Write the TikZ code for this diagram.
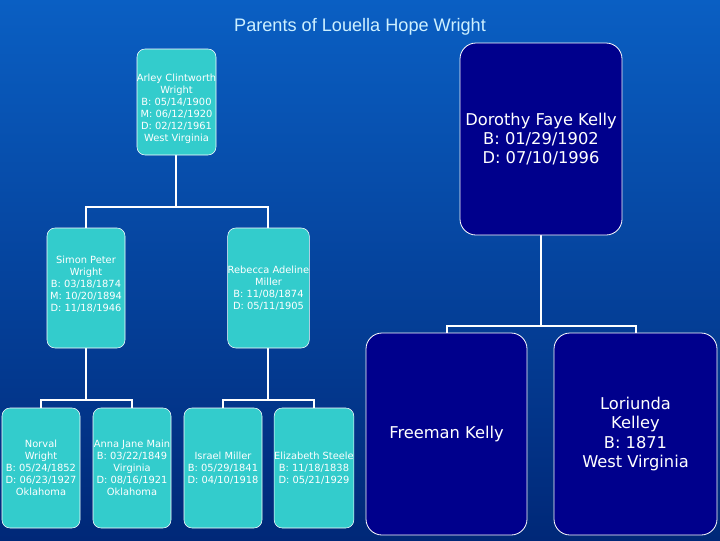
\documentclass[tikz,border=0pt]{standalone}
\usepackage{fontspec}
\setmainfont{DejaVu Sans}
\newfontfamily\titlefont{Liberation Sans}
\definecolor{turq}{RGB}{51,204,204}
\definecolor{navybox}{RGB}{0,0,140}
\definecolor{bgtop}{RGB}{10,95,195}
\definecolor{bgbot}{RGB}{0,40,120}
\definecolor{titlecol}{RGB}{205,240,255}
\begin{document}
\begin{tikzpicture}[x=0.75pt,y=-0.75pt,
  tfont/.style={font=\fontsize{7.4}{9}\selectfont},
  tbox/.style={fill=turq,draw=white,line width=0.4pt,rounded corners=6pt,text=white,align=center,tfont,inner sep=0pt},
  ttext/.style={text=white,align=center,tfont},
  nbox/.style={fill=navybox,draw=white,line width=0.6pt,rounded corners=12pt,text=white,align=center,font=\fontsize{12.2}{14.5}\selectfont,inner sep=0pt},
  conn/.style={draw=white,line width=2.2pt}]
\shade[top color=bgtop,bottom color=bgbot] (0,0) rectangle (720,540);
\useasboundingbox (0,0) rectangle (720,540);
\node[text=titlecol,font=\titlefont\fontsize{13.6}{15}\selectfont] (title) at (360,27) {Parents of Louella Hope Wright};
% connectors
\coordinate (j1) at (176,207); \coordinate (j2) at (541,326);
\coordinate (j3) at (86,400); \coordinate (j4) at (268,400);
\draw[conn] (176,155) -- (j1); \draw[conn] (86,228) |- (268,207) -- (268,228);
\draw[conn] (541,235) -- (j2); \draw[conn] (447,333) |- (636,326) -- (636,333);
\draw[conn] (86,348) -- (j3); \draw[conn] (41,408) |- (132,400) -- (132,408);
\draw[conn] (268,348) -- (j4); \draw[conn] (223,408) |- (314,400) -- (314,408);
% boxes
\node[tbox,minimum width=59.25pt,minimum height=79.5pt] (arley) at (176.5,102) {};
\node[ttext] at (176.5,109) {Arley Clintworth\\Wright\\B: 05/14/1900\\M: 06/12/1920\\D: 02/12/1961\\West Virginia};
\node[nbox,minimum width=121.5pt,minimum height=144pt] (dorothy) at (541,139) {Dorothy Faye Kelly\\B: 01/29/1902\\D: 07/10/1996};
\node[tbox,minimum width=58.5pt,minimum height=90pt] (simon) at (86,288) {};
\node[ttext] at (86,284) {Simon Peter\\Wright\\B: 03/18/1874\\M: 10/20/1894\\D: 11/18/1946};
\node[tbox,minimum width=59.25pt,minimum height=90pt] (rebecca) at (268.5,288) {Rebecca Adeline\\Miller\\B: 11/08/1874\\D: 05/11/1905};
\node[nbox,minimum width=120.75pt,minimum height=151.5pt] (freeman) at (446.5,434) {Freeman Kelly};
\node[nbox,minimum width=122.25pt,minimum height=151.5pt] (lori) at (635.5,434) {Loriunda\\Kelley\\B: 1871\\West Virginia};
\node[tbox,minimum width=58.5pt,minimum height=90pt] (norval) at (41,468) {Norval\\Wright\\B: 05/24/1852\\D: 06/23/1927\\Oklahoma};
\node[tbox,minimum width=58.5pt,minimum height=90pt] (anna) at (132,468) {Anna Jane Main\\B: 03/22/1849\\Virginia\\D: 08/16/1921\\Oklahoma};
\node[tbox,minimum width=58.5pt,minimum height=90pt] (israel) at (223,468) {Israel Miller\\B: 05/29/1841\\D: 04/10/1918};
\node[tbox,minimum width=58.5pt,minimum height=90pt] (eliz) at (314,468) {Elizabeth Steele\\B: 11/18/1838\\D: 05/21/1929};
\end{tikzpicture}
\end{document}
